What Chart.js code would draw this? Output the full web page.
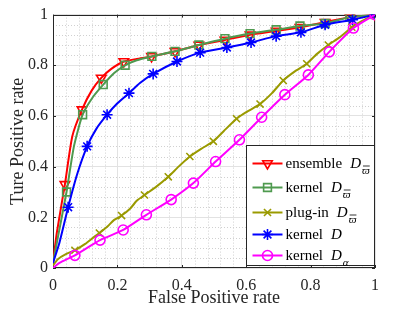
<!DOCTYPE html>
<html>
<head>
<meta charset="utf-8">
<script src="https://cdn.jsdelivr.net/npm/chart.js@4.4.1/dist/chart.umd.min.js"></script>
<style>
  html, body { margin: 0; padding: 0; background: #fff; }
  #wrap { width: 415px; height: 312px; }
</style>
</head>
<body>
<div id="wrap"><canvas id="rocChart" width="415" height="312"></canvas></div>
<script>
// legend names + subscripts
const seriesNames = ["ensemble", "kernel", "plug-in", "kernel", "kernel"];
const seriesSubs = ["\u03D6", "\u03D6", "\u03D6", "", "\u03B1"];
const subBar = [true, true, true, false, false];

const xTicks = [0, 0.2, 0.4, 0.6, 0.8, 1];
const yTicks = [0, 0.2, 0.4, 0.6, 0.8, 1];
const minorSteps = [0.04, 0.08, 0.12, 0.16, 0.24, 0.28, 0.32, 0.36, 0.44, 0.48, 0.52, 0.56,
    0.64, 0.68, 0.72, 0.76, 0.84, 0.88, 0.92, 0.96];

// ensemble D_varpi
const ensFpr = [0, 0.012, 0.037, 0.06, 0.09, 0.12, 0.15, 0.18, 0.22, 0.26, 0.306, 0.379, 0.453, 0.534, 0.612, 0.693, 0.767, 0.845, 0.922, 1];
const ensTpr = [0.02, 0.14, 0.33, 0.52, 0.625, 0.70, 0.75, 0.785, 0.815, 0.825, 0.835, 0.855, 0.88, 0.90, 0.92, 0.935, 0.95, 0.97, 0.99, 1];
const ensMarks = [2, 4, 6, 8, 10, 11, 12, 13, 14, 15, 16, 17, 18, 19];

// kernel D_varpi
const kvFpr = [0, 0.015, 0.042, 0.065, 0.092, 0.124, 0.156, 0.19, 0.224, 0.26, 0.307, 0.379, 0.453, 0.534, 0.612, 0.693, 0.767, 0.845, 0.922, 1];
const kvTpr = [0.02, 0.12, 0.30, 0.48, 0.605, 0.675, 0.724, 0.77, 0.80, 0.82, 0.835, 0.855, 0.88, 0.905, 0.925, 0.94, 0.955, 0.965, 0.99, 1];
const kvMarks = [2, 4, 6, 8, 10, 11, 12, 13, 14, 15, 16, 17, 18, 19];

// plug-in D_varpi
const plugFpr = [0, 0.015, 0.04, 0.068, 0.1, 0.125, 0.144, 0.17, 0.19, 0.213, 0.24, 0.26, 0.284, 0.32, 0.358, 0.39, 0.425, 0.46, 0.498, 0.53, 0.57, 0.60, 0.643, 0.68, 0.715, 0.75, 0.788, 0.82, 0.855, 0.89, 0.928, 0.96, 1];
const plugTpr = [0.01, 0.035, 0.055, 0.07, 0.095, 0.12, 0.138, 0.165, 0.19, 0.207, 0.235, 0.265, 0.288, 0.32, 0.36, 0.40, 0.44, 0.47, 0.50, 0.54, 0.589, 0.615, 0.647, 0.69, 0.74, 0.775, 0.806, 0.845, 0.88, 0.91, 0.95, 0.975, 1];
const plugMarks = [3, 6, 9, 12, 14, 16, 18, 20, 22, 24, 26, 28, 30, 32];

// kernel D
const kdFpr = [0, 0.02, 0.047, 0.075, 0.106, 0.135, 0.168, 0.2, 0.236, 0.27, 0.311, 0.385, 0.457, 0.54, 0.615, 0.693, 0.77, 0.845, 0.93, 1];
const kdTpr = [0.02, 0.10, 0.24, 0.37, 0.48, 0.55, 0.605, 0.65, 0.69, 0.73, 0.766, 0.815, 0.85, 0.87, 0.89, 0.915, 0.93, 0.96, 0.98, 1];
const kdMarks = [2, 4, 6, 8, 10, 11, 12, 13, 14, 15, 16, 17, 18, 19];

// kernel D_alpha
const kaFpr = [0, 0.02, 0.068, 0.146, 0.218, 0.29, 0.367, 0.436, 0.505, 0.579, 0.648, 0.72, 0.793, 0.858, 0.933, 1];
const kaTpr = [0.0, 0.02, 0.05, 0.11, 0.15, 0.21, 0.27, 0.335, 0.42, 0.506, 0.595, 0.684, 0.762, 0.853, 0.947, 1];
const kaMarks = [2, 3, 4, 5, 6, 7, 8, 9, 10, 11, 12, 13, 14, 15];

const FONT = "'Liberation Serif', 'Times New Roman', serif";
const AXIS_COLOR = "#262626";

const series = [
    { fpr: ensFpr, tpr: ensTpr, marks: ensMarks, color: "#ff0000", style: "triangle", rot: 180, r: 5.5 },
    { fpr: kvFpr, tpr: kvTpr, marks: kvMarks, color: "#4f9a4f", style: "rect", rot: 0, r: 5.5 },
    { fpr: plugFpr, tpr: plugTpr, marks: plugMarks, color: "#9a9a00", style: "crossRot", rot: 0, r: 5 },
    { fpr: kdFpr, tpr: kdTpr, marks: kdMarks, color: "#0000ff", style: "star", rot: 0, r: 5.5 },
    { fpr: kaFpr, tpr: kaTpr, marks: kaMarks, color: "#ff00ff", style: "circle", rot: 0, r: 5 }
];

const datasets = series.map((s, k) => ({
    label: seriesNames[k] + " D" + seriesSubs[k],
    data: s.fpr.map((v, i) => ({ x: v, y: s.tpr[i] })),
    borderColor: s.color,
    backgroundColor: "rgba(0,0,0,0)",
    borderWidth: 2,
    tension: 0.2,
    pointStyle: s.style,
    pointRotation: s.rot,
    pointRadius: (c) => (s.marks.includes(c.dataIndex) ? s.r : 0),
    pointBorderColor: s.color,
    pointBackgroundColor: "rgba(0,0,0,0)",
    pointBorderWidth: 1.6,
    order: series.length - k
}));

// dotted minor grid, box and inward ticks (matlab look)
const axesBox = {
    id: "axesBox",
    beforeDatasetsDraw(chart) {
        const { ctx, chartArea: a, scales: { x, y } } = chart;
        ctx.save();
        ctx.lineWidth = 1;
        ctx.strokeStyle = "#d0d0d0";
        ctx.setLineDash([1, 2]);
        minorSteps.forEach((v) => {
            const px = Math.round(x.getPixelForValue(v)) + 0.5;
            const py = Math.round(y.getPixelForValue(v)) + 0.5;
            ctx.beginPath();
            ctx.moveTo(px, a.top); ctx.lineTo(px, a.bottom);
            ctx.moveTo(a.left, py); ctx.lineTo(a.right, py);
            ctx.stroke();
        });
        ctx.setLineDash([]);
        ctx.strokeStyle = AXIS_COLOR;
        ctx.strokeRect(Math.round(a.left) + 0.5, Math.round(a.top) + 0.5,
            Math.round(a.width) - 1, Math.round(a.height) - 1);
        ctx.beginPath();
        xTicks.forEach((v) => {
            const px = Math.round(x.getPixelForValue(v)) + 0.5;
            ctx.moveTo(px, a.bottom); ctx.lineTo(px, a.bottom - 3);
            ctx.moveTo(px, a.top); ctx.lineTo(px, a.top + 3);
        });
        yTicks.forEach((v) => {
            const py = Math.round(y.getPixelForValue(v)) + 0.5;
            ctx.moveTo(a.left, py); ctx.lineTo(a.left + 3, py);
            ctx.moveTo(a.right, py); ctx.lineTo(a.right - 3, py);
        });
        ctx.stroke();
        ctx.restore();
    }
};

// boxed legend, line + marker + "name D_sub"
const boxLegend = {
    id: "boxLegend",
    afterDraw(chart) {
        const { ctx, chartArea: a } = chart;
        const right = Math.round(a.right) - 0.5;
        const left = right - 128;
        const top = Math.round(a.top) + 130.5;
        const bottom = Math.round(a.bottom) - 2.5;
        ctx.save();
        ctx.fillStyle = "#fff";
        ctx.fillRect(left, top, right - left, bottom - top);
        ctx.strokeStyle = AXIS_COLOR;
        ctx.lineWidth = 1;
        ctx.strokeRect(left, top, right - left, bottom - top);

        const rowY = [18, 42, 67, 89, 110];
        series.forEach((s, k) => {
            const yy = top + rowY[k];
            ctx.strokeStyle = s.color;
            ctx.lineWidth = 2;
            ctx.beginPath();
            ctx.moveTo(left + 6, yy); ctx.lineTo(left + 36, yy);
            ctx.stroke();
            ctx.lineWidth = 1.6;
            ctx.fillStyle = "rgba(0,0,0,0)";
            if (Chart.helpers && Chart.helpers.drawPoint) {
                Chart.helpers.drawPoint(ctx, { pointStyle: s.style, radius: s.r, rotation: s.rot, borderWidth: 1.6 }, left + 21, yy);
            }
            ctx.fillStyle = "#000";
            ctx.textBaseline = "alphabetic";
            ctx.textAlign = "left";
            ctx.font = "15px " + FONT;
            const tx = left + 39;
            ctx.fillText(seriesNames[k], tx, yy + 4);
            const dx = tx + ctx.measureText(seriesNames[k]).width + 8;
            ctx.font = "italic 15px " + FONT;
            ctx.fillText("D", dx, yy + 4);
            const sx = dx + ctx.measureText("D").width + 1;
            if (seriesSubs[k]) {
                ctx.font = "italic 11px " + FONT;
                ctx.fillText(seriesSubs[k], sx, yy + 10);
                if (subBar[k]) {
                    const w = ctx.measureText(seriesSubs[k]).width;
                    ctx.strokeStyle = "#000";
                    ctx.lineWidth = 0.8;
                    ctx.beginPath();
                    ctx.moveTo(sx + 1, yy + 2.5); ctx.lineTo(sx + w, yy + 2.5);
                    ctx.stroke();
                }
            }
        });
        ctx.restore();
    }
};

const tickFont = { family: FONT, size: 16 };
const fmtTick = (v) => String(Math.round(v * 10) / 10);

new Chart(document.getElementById("rocChart"), {
    type: "line",
    data: { datasets },
    plugins: [axesBox, boxLegend],
    options: {
        responsive: false,
        animation: false,
        layout: { padding: { top: 12, right: 40, left: 0, bottom: 0 } },
        plugins: { legend: { display: false }, tooltip: { enabled: false } },
        scales: {
            x: {
                type: "linear",
                min: 0,
                max: 1,
                afterFit: (sc) => { sc.height = 44; },
                ticks: { stepSize: 0.2, color: AXIS_COLOR, font: tickFont, padding: 8, maxRotation: 0, callback: fmtTick },
                grid: { color: "#e2e2e2", drawTicks: false },
                border: { display: false },
                title: { display: true, text: "False Positive rate", color: AXIS_COLOR, font: { family: FONT, size: 18 }, padding: { top: 0, bottom: 3 } }
            },
            y: {
                type: "linear",
                min: 0,
                max: 1,
                afterFit: (sc) => { sc.width = 53; },
                ticks: { stepSize: 0.2, color: AXIS_COLOR, font: tickFont, padding: 5, callback: fmtTick },
                grid: { color: "#e2e2e2", drawTicks: false },
                border: { display: false },
                title: { display: true, text: "Ture Positive rate", color: AXIS_COLOR, font: { family: FONT, size: 18 }, padding: { top: 7, bottom: 0 } }
            }
        }
    }
});
</script>
</body>
</html>
